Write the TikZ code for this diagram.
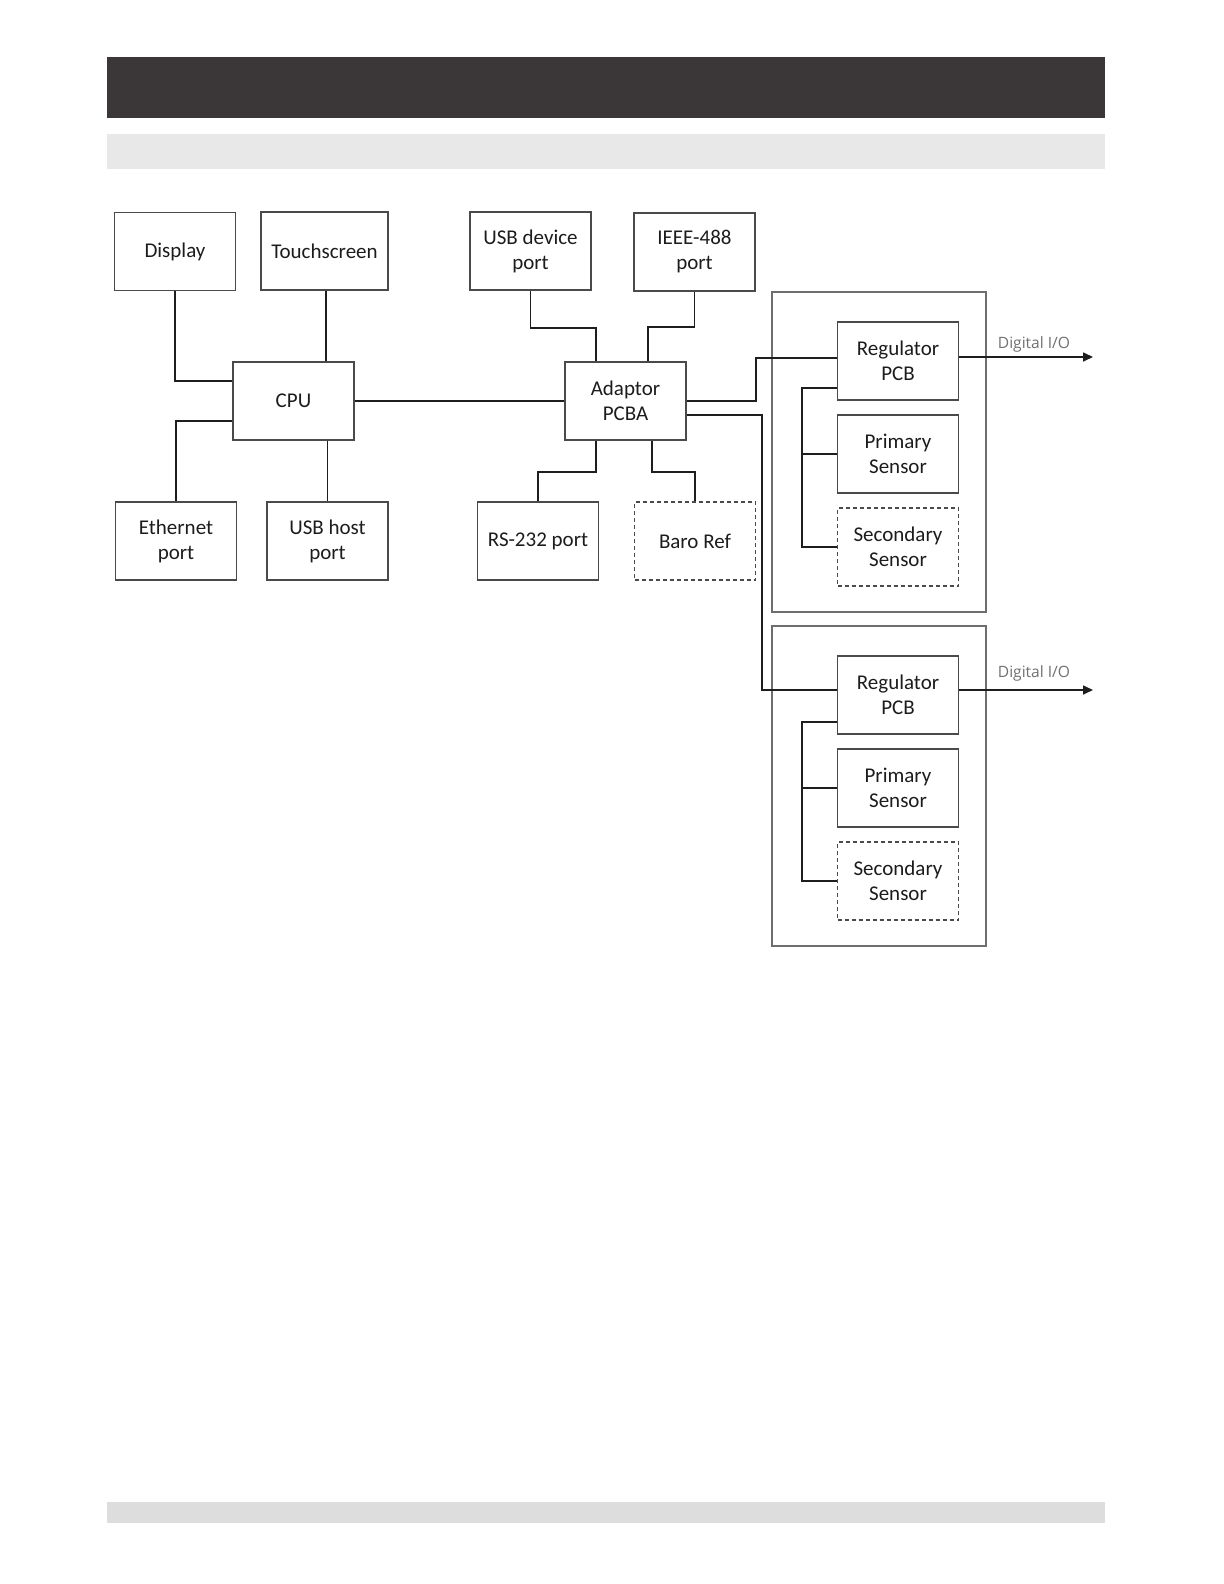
\documentclass[tikz,border=0pt]{standalone}
\usepackage{fontspec}
\setmainfont{Carlito}
\newfontfamily\iofont{Open Sans}
\usepackage{tikz}
\usetikzlibrary{arrows.meta}

\definecolor{barDark}{HTML}{3B3738}
\definecolor{barLight}{HTML}{E8E8E8}
\definecolor{barFoot}{HTML}{DDDDDD}
\definecolor{boxEdge}{HTML}{4A4A4A}
\definecolor{wireCol}{HTML}{1E1E1E}
\definecolor{textCol}{HTML}{1C1C1C}
\definecolor{ioCol}{HTML}{707070}

\begin{document}
\begin{tikzpicture}[x=0.5pt,y=-0.5pt,
    block/.style={draw=boxEdge, line width=0.7pt, minimum width=60.5pt,
      minimum height=39pt, inner sep=0pt, align=center,
      font=\fontsize{10.5}{12.5}\selectfont, text=textCol},
    optblock/.style={block, dashed, dash pattern=on 2pt off 1.5pt},
    module/.style={draw=boxEdge!80, line width=0.8pt, minimum width=107pt,
      minimum height=160pt, inner sep=0pt},
    wire/.style={draw=wireCol, line width=0.8pt},
    bus/.style={draw=wireCol, line width=1.2pt},
    iolabel/.style={font=\iofont\fontsize{7.8}{9}\selectfont, text=ioCol,
      inner sep=0pt, anchor=base}]
  \useasboundingbox (0,0) rectangle (1224,1584);

  % page bars
  \fill[barDark] (107,57) rectangle (1105,118);
  \fill[barLight] (107,134) rectangle (1105,169);
  \fill[barFoot] (107,1502) rectangle (1105,1523);

  % main blocks
  \node[block] (Display) at (175,251.5) {Display};
  \node[block, minimum width=63.5pt] (Touchscreen) at (324.5,251) {Touchscreen};
  \node[block] (CPU) at (293.5,401) {CPU};
  \node[block] (Ethernet) at (176,541) {Ethernet\\port};
  \node[block] (USBhost) at (327.5,541) {USB host\\port};

  \node[block] (USBdevice) at (530.5,251) {USB device\\port};
  \node[block] (IEEE) at (694.5,252) {IEEE-488\\port};
  \node[block] (Adaptor) at (625.5,401) {Adaptor\\PCBA};
  \node[block] (RSport) at (538,541) {RS-232 port};
  \node[optblock] (BaroRef) at (695,541) {Baro Ref};

  % pressure modules
  \node[module] (ModuleA) at (879,452) {};
  \node[block] (RegA) at (898,361) {Regulator\\PCB};
  \node[block] (PrimA) at (898,454) {Primary\\Sensor};
  \node[optblock] (SecA) at (898,547) {Secondary\\Sensor};

  \node[module] (ModuleB) at (879,786) {};
  \node[block] (RegB) at (898,695) {Regulator\\PCB};
  \node[block] (PrimB) at (898,788) {Primary\\Sensor};
  \node[optblock] (SecB) at (898,881) {Secondary\\Sensor};

  \coordinate (ioA) at (1093,357);
  \coordinate (ioB) at (1093,690);

  % CPU side
  \draw[wire] (Display.south) |- (CPU.west |- 0,381);
  \draw[wire] (Touchscreen.south -| 326,0) -- (CPU.north -| 326,0);
  \draw[wire] (CPU.west |- 0,421) -| (Ethernet.north);
  \draw[wire] (USBhost.north |- CPU.south) -- (USBhost.north);
  \draw[bus] (CPU.east) -- (Adaptor.west);

  % Adaptor side
  \draw[wire] (USBdevice.south) |- (596,328) -- (Adaptor.north -| 596,0);
  \draw[wire] (IEEE.south) |- (648,327) -- (Adaptor.north -| 648,0);
  \draw[wire] (Adaptor.south -| 596,0) |- (RSport.north |- 0,472) -- (RSport.north);
  \draw[wire] (Adaptor.south -| 652,0) |- (BaroRef.north |- 0,472) -- (BaroRef.north);
  \draw[wire] (Adaptor.east) -| (756,358) -- (RegA.west |- 0,358);
  \draw[wire] (Adaptor.east |- 0,415) -| (762,690) -- (RegB.west |- 0,690);

  % module internals
  \draw[wire] (RegA.west |- 0,388) -| (802,547) -- (SecA.west);
  \draw[wire] (802,454) -- (PrimA.west);
  \draw[wire] (RegB.west |- 0,722) -| (802,881) -- (SecB.west);
  \draw[wire] (802,788) -- (PrimB.west);

  % digital outputs
  \draw[wire, -{Triangle[length=5pt,width=4.5pt]}] (RegA.east |- ioA) -- (ioA);
  \node[iolabel] at (1034,348) {Digital I/O};
  \draw[wire, -{Triangle[length=5pt,width=4.5pt]}] (RegB.east |- ioB) -- (ioB);
  \node[iolabel] at (1034,677) {Digital I/O};
\end{tikzpicture}
\end{document}
